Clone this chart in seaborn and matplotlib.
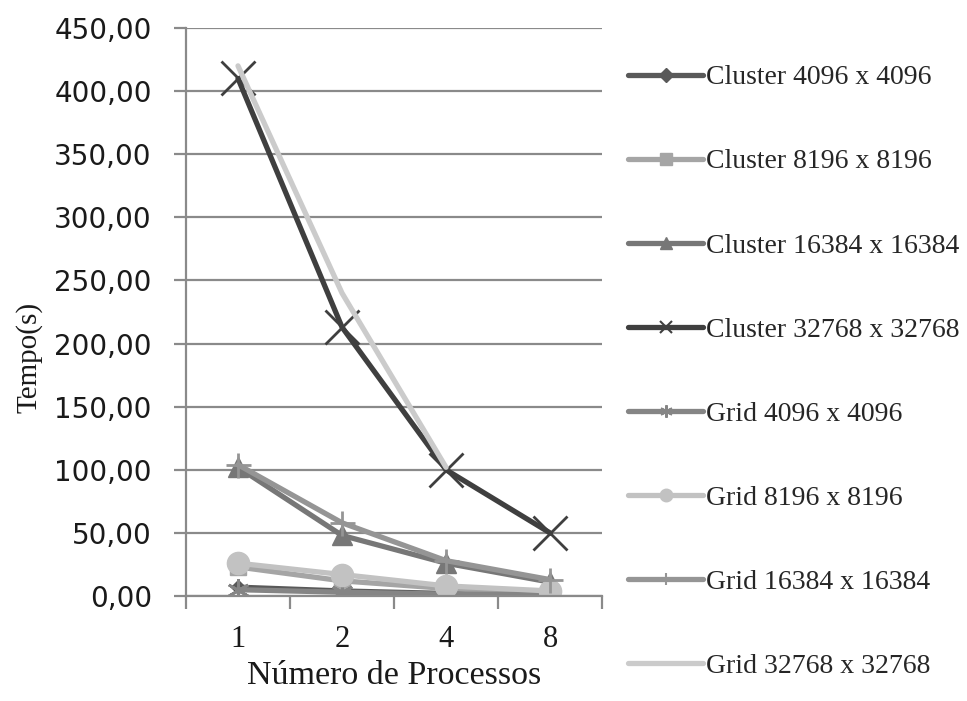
import matplotlib
matplotlib.use("Agg")
import matplotlib.pyplot as plt
from matplotlib.lines import Line2D
import seaborn as sns
import pandas as pd
import numpy as np
from matplotlib.ticker import FuncFormatter, FixedLocator

# Execution time (s) per number of processes
processos = ["1", "2", "4", "8"]

cluster_4096 = [7, 4, 2, 1]
cluster_8196 = [23, 12, 6, 2]
cluster_16384 = [102, 48, 26, 11]
cluster_32768 = [410, 213, 100, 50]
grid_4096 = [5, 3, 1.5, 1]
grid_8196 = [26, 17, 8, 4]
grid_16384 = [104, 58, 28, 13]
grid_32768 = [420, 240, 102, np.nan]

series_names = [
    "Cluster 4096 x 4096", "Cluster 8196 x 8196", "Cluster 16384 x 16384",
    "Cluster 32768 x 32768", "Grid 4096 x 4096", "Grid 8196 x 8196",
    "Grid 16384 x 16384", "Grid 32768 x 32768",
]
series_values = [cluster_4096, cluster_8196, cluster_16384, cluster_32768,
                 grid_4096, grid_8196, grid_16384, grid_32768]

colors = ["#595959", "#a5a5a5", "#777777", "#3f3f3f",
          "#858585", "#c2c2c2", "#959595", "#cbcbcb"]
markers = ["D", "s", "^", "x", (6, 2, 0), "o", "+", None]
msizes = [7, 12, 14, 24, 16, 16, 18, 0]

sns.set_theme(style="white")
plt.rcParams["font.family"] = ["Liberation Serif", "DejaVu Serif"]

fig = plt.figure(figsize=(9.67, 7.01), dpi=100)
ax = fig.add_axes([186 / 967, 1 - 596 / 701, 416 / 967, 568 / 701])

pos = np.arange(len(processos))
legend_handles = []
for name, vals, c, m, ms in zip(series_names, series_values, colors, markers, msizes):
    df = pd.DataFrame({"x": pos, "y": vals})
    thin = m in ("x", "+", (6, 2, 0))
    sns.lineplot(data=df, x="x", y="y", ax=ax, color=c, linewidth=3.8,
                 marker=m, markersize=ms, markeredgecolor=c,
                 markeredgewidth=2 if thin else 1, legend=False)
    legend_handles.append(Line2D([], [], color=c, linewidth=3.8, marker=m,
                                 markersize=min(ms, 9), markeredgecolor=c,
                                 markeredgewidth=1.5 if thin else 1))

ax.set_xlim(-0.5, 3.5)
ax.set_ylim(0, 450)
ax.set_yticks(np.arange(0, 451, 50))
ax.yaxis.set_major_formatter(FuncFormatter(lambda v, p: f"{v:.2f}".replace(".", ",")))
ax.set_xticks(pos)
ax.set_xticklabels(processos)
ax.xaxis.set_minor_locator(FixedLocator([-0.5, 0.5, 1.5, 2.5, 3.5]))

ax.grid(axis="y", color="#8a8a8a", linewidth=1.6)
ax.set_axisbelow(True)
for s in ["top", "right"]:
    ax.spines[s].set_visible(False)
for s in ["left", "bottom"]:
    ax.spines[s].set_color("#8a8a8a")
    ax.spines[s].set_linewidth(1.6)

ax.tick_params(axis="y", which="major", left=True, length=8.6, width=1.6,
               color="#8a8a8a", pad=16, labelsize=20, labelcolor="#1a1a1a")
for lab in ax.get_yticklabels():
    lab.set_fontfamily("DejaVu Sans")
ax.tick_params(axis="x", which="major", bottom=False, length=0, pad=21,
               labelsize=22, labelcolor="#1a1a1a")
ax.tick_params(axis="x", which="minor", bottom=True, length=9, width=1.6,
               color="#8a8a8a")

ax.set_xlabel("Número de Processos", fontsize=24.5, color="#1a1a1a", va="top")
ax.xaxis.set_label_coords(0.5, -0.113)
ax.set_ylabel("Tempo(s)", fontsize=21, color="#1a1a1a")
ax.yaxis.set_label_coords(-0.346, 0.42)

fig.legend(legend_handles, series_names, loc="upper left",
           bbox_to_anchor=(628 / 967, 1 - 65 / 701), frameon=False,
           fontsize=20, handlelength=2.7, handletextpad=0.1,
           labelspacing=2.11, borderpad=0, borderaxespad=0)

fig.savefig("out.png", dpi=100)
